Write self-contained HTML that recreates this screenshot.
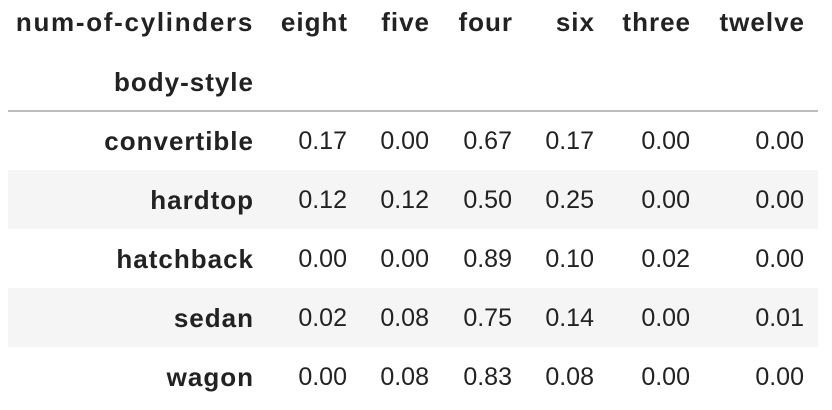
<!DOCTYPE html>
<html><head><meta charset="utf-8"><style>
body{margin:0;width:832px;height:410px;background:#fff;position:relative;overflow:hidden;font-family:"Liberation Sans",Arial,sans-serif;color:#222;}
.t{position:absolute;font-size:25px;line-height:30px;text-align:right;white-space:nowrap;}
.b{font-weight:bold;font-size:26px;letter-spacing:1px;}
.stripe{position:absolute;left:8px;width:810px;height:59px;background:#f5f5f5;}
.rule{position:absolute;left:8px;top:110px;width:810px;height:2px;background:#bdbdbd;}
</style></head><body>
<div class="rule"></div>
<script>
const columns=["eight","five","four","six","three","twelve"];
const rows=["convertible","hardtop","hatchback","sedan","wagon"];
const v_convertible=[0.17,0.00,0.67,0.17,0.00,0.00];
const v_hardtop=[0.12,0.12,0.50,0.25,0.00,0.00];
const v_hatchback=[0.00,0.00,0.89,0.10,0.02,0.00];
const v_sedan=[0.02,0.08,0.75,0.14,0.00,0.01];
const v_wagon=[0.00,0.08,0.83,0.08,0.00,0.00];
const values=[v_convertible,v_hardtop,v_hatchback,v_sedan,v_wagon];
const colRight=[347,429,512,594,690,804];
const idxRight=253;
function addText(txt,right,cy,bold,name){
  const d=document.createElement('div');
  d.className='t'+(bold?' b':'');
  d.textContent=txt;
  d.style.right=(832-right-(bold?1:0))+'px';
  d.style.top=(cy-15)+'px';
  
  
  document.body.appendChild(d);
  return d;
}
const cl=addText("num-of-cylinders",idxRight,22,true,'columns-axis-label');
cl.style.letterSpacing='1.7px';
addText("body-style",idxRight,82,true,'index-axis-label');
columns.forEach((c,i)=>addText(c,colRight[i],22,true,'column-header-'+c));
rows.forEach((r,j)=>{
  const cy=141+j*59;
  if(j%2===1){
    const s=document.createElement('div');
    s.className='stripe';
    s.style.top=(cy-30)+'px';
    
    
    document.body.insertBefore(s,document.body.firstChild);
  }
  addText(r,idxRight,cy,true,'row-label-'+r);
  values[j].forEach((v,i)=>addText(v.toFixed(2),colRight[i],cy,false,'cell-'+r+'-'+columns[i]));
});
</script>
</body></html>
